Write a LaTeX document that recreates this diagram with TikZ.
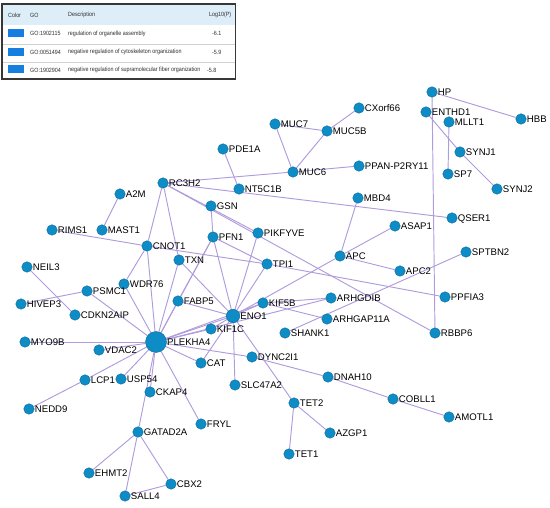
\documentclass[tikz,border=0pt]{standalone}
\usepackage{fontspec}
\setmainfont{Liberation Sans}
\newfontfamily\tabfont[FakeStretch=0.88]{Liberation Sans}
\usetikzlibrary{backgrounds}
\definecolor{nodefill}{RGB}{14,140,198}
\definecolor{nodeline}{RGB}{8,105,155}
\definecolor{edgecol}{RGB}{176,156,220}
\definecolor{hdrfill}{RGB}{222,238,248}
\definecolor{swatch}{RGB}{22,126,222}
\definecolor{tabline}{RGB}{55,55,55}
\definecolor{tabtext}{RGB}{45,45,45}
\begin{document}
\begin{tikzpicture}[x=1pt,y=-1pt,label distance=0.3pt,
  genelab/.style={font=\fontsize{9.6}{10}\selectfont,inner sep=0pt,text height=6.9pt,text depth=0pt},
  gene/.style={circle,fill=nodefill,draw=nodeline,line width=0.4pt,minimum size=10.5pt,inner sep=0pt,
    label={[genelab]0:#1}},
  edge/.style={draw=edgecol,line width=0.95pt},
  tabtxt/.style={font=\tabfont\fontsize{6.1}{6.5}\selectfont,text=tabtext,anchor=west,inner sep=0pt}]
\useasboundingbox (0,0) rectangle (550,508);

% ---------- legend table ----------
\fill[hdrfill] (3,5) rectangle (235,25);
\draw[gray!35,line width=0.4pt] (3,44.5) -- (235,44.5);
\draw[gray!35,line width=0.4pt] (3,62) -- (235,62);
\fill[swatch] (8,29.5) rectangle (24,37.5);
\fill[swatch] (8,48) rectangle (24,56.5);
\fill[swatch] (8,65.5) rectangle (24,73.5);
\draw[tabline,line width=1.3pt] (2,4) rectangle (235.5,79);
\node[tabtxt] (hColor) at (8,15) {Color};
\node[tabtxt] (hGO) at (30,15) {GO};
\node[tabtxt] (hDesc) at (68,15) {Description};
\node[tabtxt] (hLog) at (209,15) {Log10(P)};
\node[tabtxt] (go1) at (30,33.5) {GO:1902115};
\node[tabtxt] (go2) at (30,52) {GO:0051494};
\node[tabtxt] (go3) at (30,70) {GO:1902904};
\node[tabtxt] (d1) at (68,33.5) {regulation of organelle assembly};
\node[tabtxt] (d2) at (68,52) {negative regulation of cytoskeleton organization};
\node[tabtxt] (d3) at (68,70) {negative regulation of supramolecular fiber organization};
\node[tabtxt] (v1) at (212,33.5) {-6.1};
\node[tabtxt] (v2) at (212,52) {-5.9};
\node[tabtxt] (v3) at (207,70) {-5.8};

% ---------- genes ----------
\node[gene=PLEKHA4,minimum size=21pt] (PLEKHA4) at (156,342) {};
\node[gene=ENO1,minimum size=13.5pt] (ENO1) at (233,316) {};
\node[gene=HP] (HP) at (432,92) {};
\node[gene=HBB] (HBB) at (521,119) {};
\node[gene=ENTHD1] (ENTHD1) at (426,112) {};
\node[gene=MLLT1] (MLLT1) at (449,122) {};
\node[gene=SYNJ1] (SYNJ1) at (460,152) {};
\node[gene=SP7] (SP7) at (448,174) {};
\node[gene=SYNJ2] (SYNJ2) at (497,189) {};
\node[gene=CXorf66] (CXorf66) at (359,108) {};
\node[gene=MUC7] (MUC7) at (275,124) {};
\node[gene=MUC5B] (MUC5B) at (327,131) {};
\node[gene=MUC6] (MUC6) at (293,172) {};
\node[gene=PPAN-P2RY11] (PPAN) at (359,166) {};
\node[gene=PDE1A] (PDE1A) at (223,149) {};
\node[gene=NT5C1B] (NT5C1B) at (239,189) {};
\node[gene=RC3H2] (RC3H2) at (163,183) {};
\node[gene=A2M] (A2M) at (120,194) {};
\node[gene=GSN] (GSN) at (211,206) {};
\node[gene=MBD4] (MBD4) at (358,198) {};
\node[gene=QSER1] (QSER1) at (452,218) {};
\node[gene=RIMS1] (RIMS1) at (52,230) {};
\node[gene=MAST1] (MAST1) at (102,230) {};
\node[gene=ASAP1] (ASAP1) at (395,226) {};
\node[gene=PIKFYVE] (PIKFYVE) at (258,233) {};
\node[gene=PFN1] (PFN1) at (213,237) {};
\node[gene=CNOT1] (CNOT1) at (147,246) {};
\node[gene=APC] (APC) at (340,256) {};
\node[gene=SPTBN2] (SPTBN2) at (466,252) {};
\node[gene=TXN] (TXN) at (179,260) {};
\node[gene=TPI1] (TPI1) at (267,264) {};
\node[gene=NEIL3] (NEIL3) at (27,267) {};
\node[gene=APC2] (APC2) at (400,271) {};
\node[gene=WDR76] (WDR76) at (124,284) {};
\node[gene=PSMC1] (PSMC1) at (87,291) {};
\node[gene=PPFIA3] (PPFIA3) at (445,297) {};
\node[gene=ARHGDIB] (ARHGDIB) at (331,298) {};
\node[gene=FABP5] (FABP5) at (178,301) {};
\node[gene=KIF5B] (KIF5B) at (263,303) {};
\node[gene=HIVEP3] (HIVEP3) at (21,304) {};
\node[gene=CDKN2AIP] (CDKN2AIP) at (75,315) {};
\node[gene=ARHGAP11A] (ARHGAP11A) at (327,319) {};
\node[gene=KIF1C] (KIF1C) at (211,329) {};
\node[gene=SHANK1] (SHANK1) at (285,333) {};
\node[gene=RBBP6] (RBBP6) at (435,333) {};
\node[gene=MYO9B] (MYO9B) at (25,342) {};
\node[gene=VDAC2] (VDAC2) at (99,350) {};
\node[gene=DYNC2I1] (DYNC2I1) at (252,357) {};
\node[gene=CAT] (CAT) at (201,363) {};
\node[gene=DNAH10] (DNAH10) at (328,377) {};
\node[gene=USP54] (USP54) at (121,379) {};
\node[gene=LCP1] (LCP1) at (85,380) {};
\node[gene=SLC47A2] (SLC47A2) at (235,385) {};
\node[gene=CKAP4] (CKAP4) at (150,392) {};
\node[gene=COBLL1] (COBLL1) at (393,399) {};
\node[gene=TET2] (TET2) at (294,403) {};
\node[gene=NEDD9] (NEDD9) at (29,409) {};
\node[gene=AMOTL1] (AMOTL1) at (449,417) {};
\node[gene=FRYL] (FRYL) at (201,424) {};
\node[gene=GATAD2A] (GATAD2A) at (138,432) {};
\node[gene=AZGP1] (AZGP1) at (330,433) {};
\node[gene=TET1] (TET1) at (289,454) {};
\node[gene=EHMT2] (EHMT2) at (89,473) {};
\node[gene=CBX2] (CBX2) at (171,484) {};
\node[gene=SALL4] (SALL4) at (125,496) {};

% ---------- edges ----------
\begin{scope}[on background layer]
\foreach \a/\b in {HP/HBB,HP/RBBP6,ENTHD1/SYNJ1,SYNJ1/SYNJ2,MLLT1/SP7,
  CXorf66/MUC5B,MUC7/MUC5B,MUC7/MUC6,MUC5B/MUC6,MUC6/PPAN,RC3H2/MUC6,
  PDE1A/NT5C1B,RC3H2/QSER1,RC3H2/CNOT1,RC3H2/TXN,RC3H2/PIKFYVE,RC3H2/RBBP6,
  A2M/MAST1,RIMS1/CNOT1,GSN/PFN1,CNOT1/TPI1,TPI1/PPFIA3,PFN1/TPI1,
  CNOT1/WDR76,CNOT1/PLEKHA4,WDR76/PLEKHA4,NEIL3/CDKN2AIP,HIVEP3/PSMC1,PSMC1/PLEKHA4,
  PLEKHA4/MYO9B,PLEKHA4/VDAC2,PLEKHA4/LCP1,LCP1/NEDD9,PLEKHA4/USP54,PLEKHA4/CKAP4,
  PLEKHA4/GATAD2A,PLEKHA4/FRYL,PLEKHA4/CAT,PLEKHA4/DYNC2I1,DYNC2I1/DNAH10,
  DNAH10/COBLL1,COBLL1/AMOTL1,PLEKHA4/TXN,PLEKHA4/FABP5,PLEKHA4/PFN1,FABP5/PFN1,
  PLEKHA4/ENO1,PLEKHA4/KIF5B,PLEKHA4/KIF1C,KIF1C/ENO1,ENO1/KIF5B,PLEKHA4/ARHGDIB,
  ENO1/TXN,ENO1/PFN1,ENO1/PIKFYVE,ENO1/TPI1,ENO1/FABP5,ENO1/APC,APC/ASAP1,MBD4/APC,
  APC/APC2,ENO1/SLC47A2,ENO1/TET2,ENO1/CAT,TET2/TET1,TET2/AZGP1,
  KIF5B/ARHGDIB,KIF5B/ARHGAP11A,SHANK1/SPTBN2,
  GATAD2A/EHMT2,GATAD2A/SALL4,GATAD2A/CBX2,SALL4/CBX2}
  \draw[edge] (\a) -- (\b);
\end{scope}
\end{tikzpicture}
\end{document}
